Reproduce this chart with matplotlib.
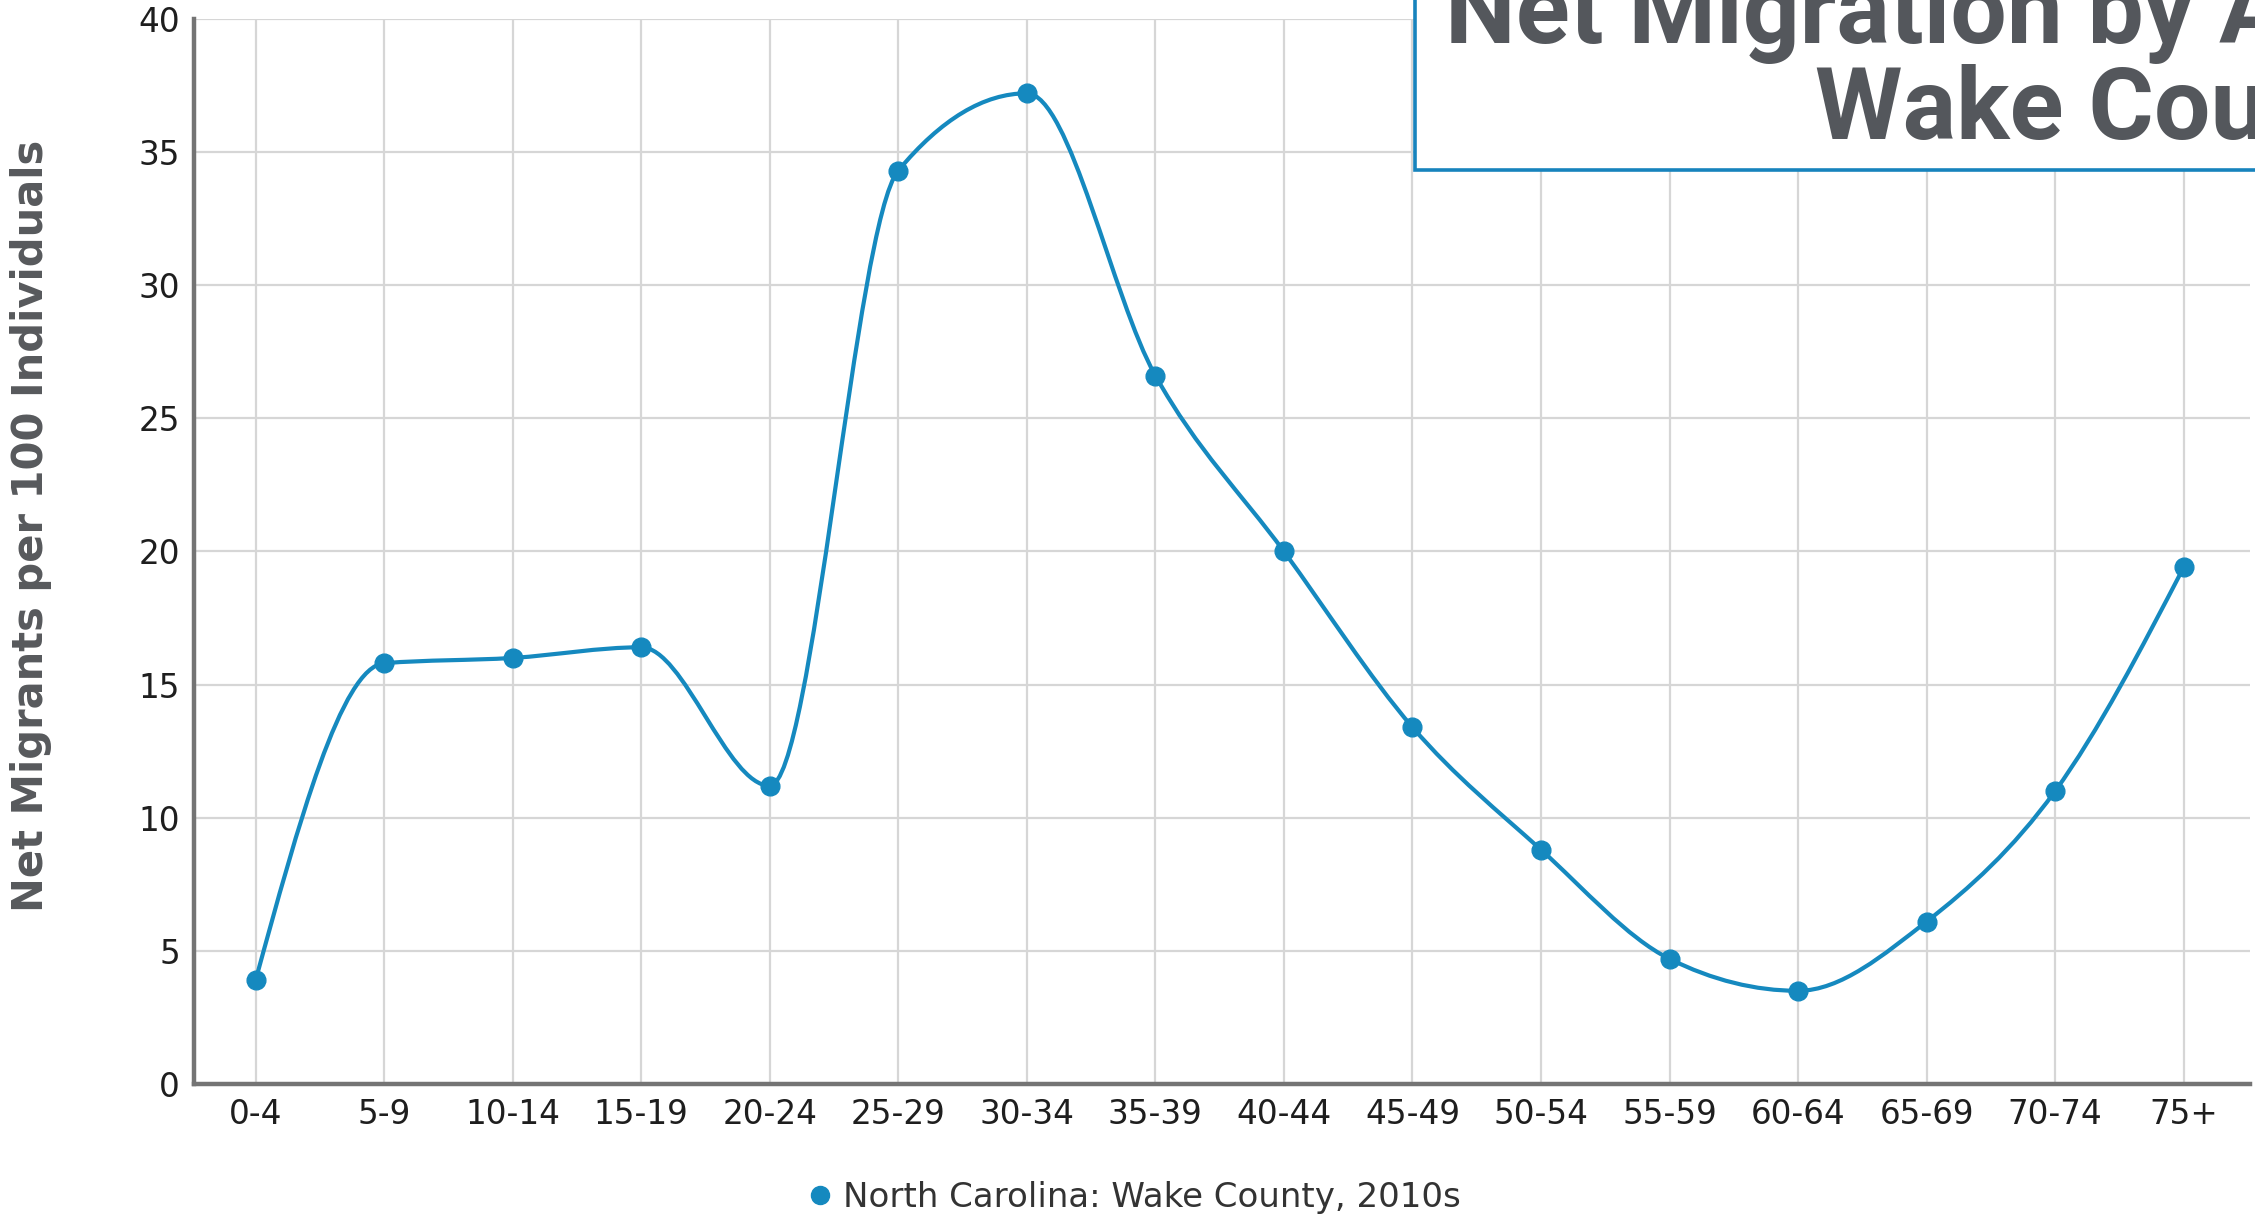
import numpy as np
import matplotlib
matplotlib.use("Agg")
import matplotlib.pyplot as plt
from matplotlib.path import Path
from matplotlib.patches import PathPatch, Rectangle
from matplotlib.lines import Line2D

######## DATA ##########################################################
age_groups = ["0-4", "5-9", "10-14", "15-19", "20-24", "25-29", "30-34", "35-39",
              "40-44", "45-49", "50-54", "55-59", "60-64", "65-69", "70-74", "75+"]
net_migrants = [3.9, 15.8, 16.0, 16.4, 11.2, 34.3, 37.2, 26.6,
                20.0, 13.4, 8.8, 4.7, 3.5, 6.1, 11.0, 19.4]
series_name = "North Carolina: Wake County, 2010s"
y_ticks = [0, 5, 10, 15, 20, 25, 30, 35, 40]

blue = "#1589bf"
grey_txt = "#57595c"


######## monotone cubic curve through the points #######################
def monotone_path(xs, ys):
    xs = np.asarray(xs, float)
    ys = np.asarray(ys, float)
    n = len(xs)
    h = np.diff(xs)
    s = np.diff(ys) / h
    t = np.zeros(n)
    for i in range(1, n - 1):
        p = (s[i - 1] * h[i] + s[i] * h[i - 1]) / (h[i - 1] + h[i])
        t[i] = (np.sign(s[i - 1]) + np.sign(s[i])) * min(abs(s[i - 1]), abs(s[i]), 0.5 * abs(p))
    t[0] = (3 * s[0] - t[1]) / 2
    t[-1] = (3 * s[-1] - t[-2]) / 2
    verts = [(xs[0], ys[0])]
    codes = [Path.MOVETO]
    for i in range(n - 1):
        dx = (xs[i + 1] - xs[i]) / 3
        verts += [(xs[i] + dx, ys[i] + dx * t[i]),
                  (xs[i + 1] - dx, ys[i + 1] - dx * t[i + 1]),
                  (xs[i + 1], ys[i + 1])]
        codes += [Path.CURVE4] * 3
    return Path(verts, codes)


######## PLOT ##########################################################
fig = plt.figure(figsize=(22.55, 12.18), dpi=100)
ax = fig.add_axes([0.086, 0.110, 0.912, 0.8746])

x = np.arange(len(age_groups))
ax.add_patch(PathPatch(monotone_path(x, net_migrants), facecolor="none",
                       edgecolor=blue, lw=3.0, zorder=3))
ax.plot(x, net_migrants, "o", color=blue, markersize=13.5, zorder=4)

ax.set_xlim(-0.48, 15.52)
ax.set_ylim(0, 40)
ax.set_xticks(x)
ax.set_xticklabels(age_groups)
ax.set_yticks(y_ticks)
ax.tick_params(length=0, labelsize=23.5, labelcolor="#1e1e1e")
ax.tick_params(axis="x", pad=10)
ax.tick_params(axis="y", pad=10)

ax.grid(True, color="#d6d6d6", lw=1.6)
ax.set_axisbelow(True)
for s in ["top", "right"]:
    ax.spines[s].set_visible(False)
for s in ["left", "bottom"]:
    ax.spines[s].set_color("#747474")
    ax.spines[s].set_linewidth(3.2)

ax.set_ylabel("Net Migrants per 100 Individuals", fontsize=30, fontweight="bold",
              color=grey_txt)
ax.yaxis.label.set_va("center")
ax.yaxis.set_label_coords(-0.079, 0.524)

# legend
handle = Line2D([], [], marker="o", ls="none", color=blue, markersize=13)
fig.legend([handle], [series_name], loc="center", bbox_to_anchor=(0.504, 0.0165),
           frameon=False, fontsize=24.5, handlelength=0.5, handletextpad=0.42,
           labelcolor="#333333")

# title box, cut by the figure edge (as in the original screenshot)
fig.add_artist(Rectangle((0.6275, 0.8604), 0.5, 0.3, transform=fig.transFigure,
                         facecolor="white", edgecolor="#1783bd", lw=2.6, zorder=5,
                         clip_on=False))
title_font = ["Roboto", "DejaVu Sans"]
fig.text(0.6408, 0.9647, "Net Migration by Age", fontsize=72, fontweight="bold",
         family=title_font, color="#54575c",
         va="baseline", ha="left", zorder=6)
fig.text(0.8049, 0.8855, "Wake County", fontsize=72, fontweight="bold",
         family=title_font, color="#54575c",
         va="baseline", ha="left", zorder=6)

fig.savefig("out.png", dpi=100)
